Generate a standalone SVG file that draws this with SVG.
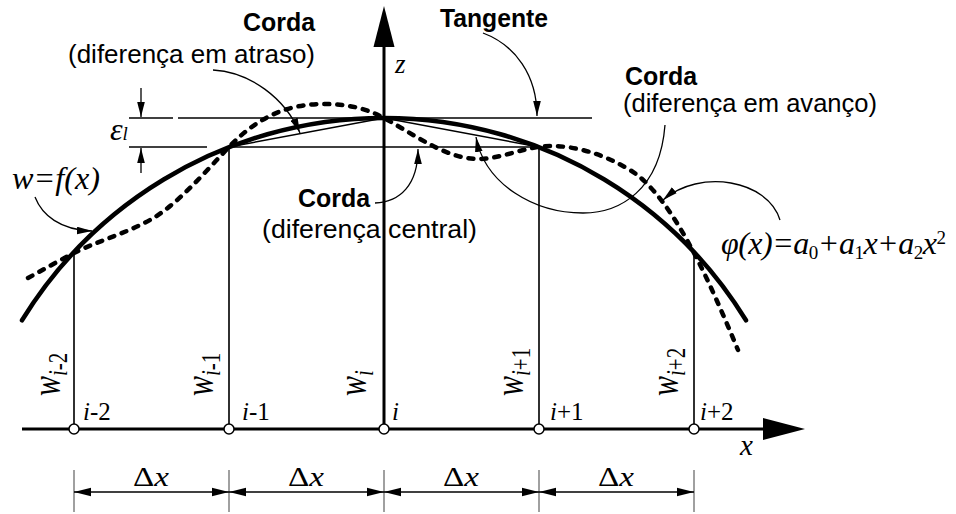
<svg xmlns="http://www.w3.org/2000/svg" width="956" height="514" viewBox="0 0 956 514">
<style>
.thin{stroke:#000;stroke-width:1.4;fill:none}
.vl{stroke:#1a1a1a;stroke-width:1.8;fill:none}
.ax{stroke:#000;stroke-width:3;fill:none}
.ext{stroke:#808080;stroke-width:1.5}
.curve{stroke:#000;stroke-width:4.5;fill:none;stroke-linecap:round}
.dot{stroke:#000;stroke-width:4.5;fill:none;stroke-dasharray:5 8;stroke-linecap:round}
.lead{stroke:#000;stroke-width:1.3;fill:none;marker-end:url(#ah)}
.dim{stroke:#000;stroke-width:1.5;marker-start:url(#dh);marker-end:url(#dh)}
.node{fill:#fff;stroke:#000;stroke-width:1.5}
.sans{font-family:"Liberation Sans",Arial,sans-serif;font-size:25px;fill:#000}
.b{font-weight:bold}
.serif{font-family:"Liberation Serif","Times New Roman",serif;fill:#000}
.it{font-style:italic}
</style>
<defs>
<marker id="ah" viewBox="-15 -4 16 8" refX="0" refY="0" markerWidth="16" markerHeight="8" markerUnits="userSpaceOnUse" orient="auto"><path d="M0,0 L-15,-3.8 L-15,3.8 Z" fill="#000"/></marker>
<marker id="dh" viewBox="-17 -5 18 10" refX="0" refY="0" markerWidth="18" markerHeight="10" markerUnits="userSpaceOnUse" orient="auto-start-reverse"><path d="M0,0 L-17,-4.3 L-17,4.3 Z" fill="#000"/></marker>
</defs>

<g id="geometry">
<line class="thin" x1="129" y1="118" x2="173" y2="118"/>
<line class="thin" x1="178" y1="118" x2="592" y2="118"/>
<line class="thin" x1="129" y1="147" x2="207" y2="147"/>
<line class="thin" x1="229" y1="147" x2="539" y2="147"/>
<line class="thin" x1="229" y1="147" x2="384" y2="118"/>
<line class="thin" x1="384" y1="118" x2="539" y2="147"/>
<line class="vl" x1="74" y1="253" x2="74" y2="429"/>
<line class="vl" x1="229" y1="147" x2="229" y2="429"/>
<line class="vl" x1="539" y1="147" x2="539" y2="429"/>
<line class="vl" x1="694" y1="253" x2="694" y2="429"/>
</g>

<g id="axes">
<line class="ax" x1="22" y1="429" x2="766" y2="429"/>
<polygon points="805,429 763,418 763,440" fill="#000"/>
<line class="ax" x1="384" y1="45" x2="384" y2="429"/>
<polygon points="384,6 373.5,47 394.5,47" fill="#000"/>
</g>

<g id="curve-f">
<path class="curve" d="M22,320.3 A425,425 0 0 1 746,320.3"/>
</g>
<g id="curve-phi">
<path class="dot" d="M28,278 C43.3,269.7 58.7,260.7 74,253 C99.3,240.3 124.7,233.9 150,220 C176.3,205.5 202.7,174.6 229,147 C260.3,114.1 291.7,104 323,104 C343.3,104 363.7,106.8 384,118 C415.3,135.2 446.7,159 478,159 C502,159 526,146 550,146 C576.7,146 603.3,154 630,170 C651.3,182.8 672.7,212.5 694,253 C708.7,280.9 723.3,314.7 738,350"/>
</g>

<g id="nodes">
<circle class="node" cx="74" cy="429" r="5"/>
<circle class="node" cx="229" cy="429" r="5"/>
<circle class="node" cx="384" cy="429" r="5"/>
<circle class="node" cx="539" cy="429" r="5"/>
<circle class="node" cx="694" cy="429" r="5"/>
</g>

<g id="connectors">
<path class="lead" d="M213,70 C250,72 285,98 300,133"/>
<path class="lead" d="M483,33 C515,45 537,75 537,116"/>
<path class="lead" d="M375,203 C400,202 418,185 418,149"/>
<path class="lead" d="M665,125 C660,190 620,213 583,213 C535,213 485,185 476,137"/>
<path class="lead" d="M780,220 C768,180 700,168 663,200"/>
<path class="lead" d="M35,197 C42,215 60,230 92,231"/>
<line class="lead" x1="141" y1="88" x2="141" y2="117"/>
<line class="lead" x1="141" y1="173" x2="141" y2="148"/>
</g>

<g id="dimensions">
<line class="ext" x1="74" y1="470" x2="74" y2="512"/>
<line class="ext" x1="229" y1="470" x2="229" y2="512"/>
<line class="ext" x1="384" y1="470" x2="384" y2="512"/>
<line class="ext" x1="539" y1="470" x2="539" y2="512"/>
<line class="ext" x1="694" y1="470" x2="694" y2="512"/>
<line class="dim" x1="74" y1="492" x2="229" y2="492"/>
<line class="dim" x1="229" y1="492" x2="384" y2="492"/>
<line class="dim" x1="384" y1="492" x2="539" y2="492"/>
<line class="dim" x1="539" y1="492" x2="694" y2="492"/>
<text class="serif" font-size="28" x="133" y="486" textLength="36" lengthAdjust="spacingAndGlyphs">Δ<tspan class="it">x</tspan></text>
<text class="serif" font-size="28" x="288" y="486" textLength="36" lengthAdjust="spacingAndGlyphs">Δ<tspan class="it">x</tspan></text>
<text class="serif" font-size="28" x="443" y="486" textLength="36" lengthAdjust="spacingAndGlyphs">Δ<tspan class="it">x</tspan></text>
<text class="serif" font-size="28" x="598" y="486" textLength="36" lengthAdjust="spacingAndGlyphs">Δ<tspan class="it">x</tspan></text>
</g>

<g id="labels">
<text class="sans b" x="243" y="31" textLength="72" lengthAdjust="spacingAndGlyphs">Corda</text>
<text class="sans" x="68" y="63" textLength="247" lengthAdjust="spacingAndGlyphs">(diferença em atraso)</text>
<text class="sans b" x="440" y="27" textLength="108" lengthAdjust="spacingAndGlyphs">Tangente</text>
<text class="sans b" x="625" y="85" textLength="72" lengthAdjust="spacingAndGlyphs" font-size="24">Corda</text>
<text class="sans" x="623" y="112" textLength="254" lengthAdjust="spacingAndGlyphs" font-size="24">(diferença em avanço)</text>
<text class="sans b" x="298" y="207" textLength="72" lengthAdjust="spacingAndGlyphs">Corda</text>
<text class="sans" x="262" y="238" textLength="215" lengthAdjust="spacingAndGlyphs">(diferença  central)</text>

<text class="serif it" font-size="32" x="12" y="189" textLength="88" lengthAdjust="spacingAndGlyphs">w=f(x)</text>
<text class="serif it" font-size="32" x="721" y="254" letter-spacing="-0.5">φ(x)=a<tspan font-style="normal" font-size="19" dy="5">0</tspan><tspan dy="-5">+a</tspan><tspan font-style="normal" font-size="19" dy="5">1</tspan><tspan dy="-5">x+a</tspan><tspan font-style="normal" font-size="19" dy="5">2</tspan><tspan dy="-5">x</tspan><tspan font-style="normal" font-size="19" dy="-10">2</tspan></text>
<text class="serif it" font-size="32" x="110" y="140">ε<tspan font-size="19">l</tspan></text>
<text class="serif it" font-size="27" x="395" y="73">z</text>
<text class="serif it" font-size="29" x="740" y="455">x</text>

<text class="serif" font-size="25" x="83" y="420"><tspan class="it">i</tspan>-2</text>
<text class="serif" font-size="25" x="242" y="420"><tspan class="it">i</tspan>-1</text>
<text class="serif it" font-size="25" x="392" y="420">i</text>
<text class="serif" font-size="25" x="550" y="420"><tspan class="it">i</tspan>+1</text>
<text class="serif" font-size="25" x="700" y="420"><tspan class="it">i</tspan>+2</text>

<g transform="translate(60,396) rotate(-90) scale(1,1.3)"><text class="serif" font-size="30"><tspan class="it">w</tspan><tspan class="it" font-size="21" dy="5">i</tspan><tspan font-size="21">-2</tspan></text></g>
<g transform="translate(213,396) rotate(-90) scale(1,1.3)"><text class="serif" font-size="30"><tspan class="it">w</tspan><tspan class="it" font-size="21" dy="5">i</tspan><tspan font-size="21">-1</tspan></text></g>
<g transform="translate(366,396) rotate(-90) scale(1,1.3)"><text class="serif" font-size="30"><tspan class="it">w</tspan><tspan class="it" font-size="21" dy="5">i</tspan></text></g>
<g transform="translate(523,396) rotate(-90) scale(1,1.3)"><text class="serif" font-size="30"><tspan class="it">w</tspan><tspan class="it" font-size="21" dy="5">i</tspan><tspan font-size="21">+1</tspan></text></g>
<g transform="translate(678,396) rotate(-90) scale(1,1.3)"><text class="serif" font-size="30"><tspan class="it">w</tspan><tspan class="it" font-size="21" dy="5">i</tspan><tspan font-size="21">+2</tspan></text></g>
</g>
</svg>
